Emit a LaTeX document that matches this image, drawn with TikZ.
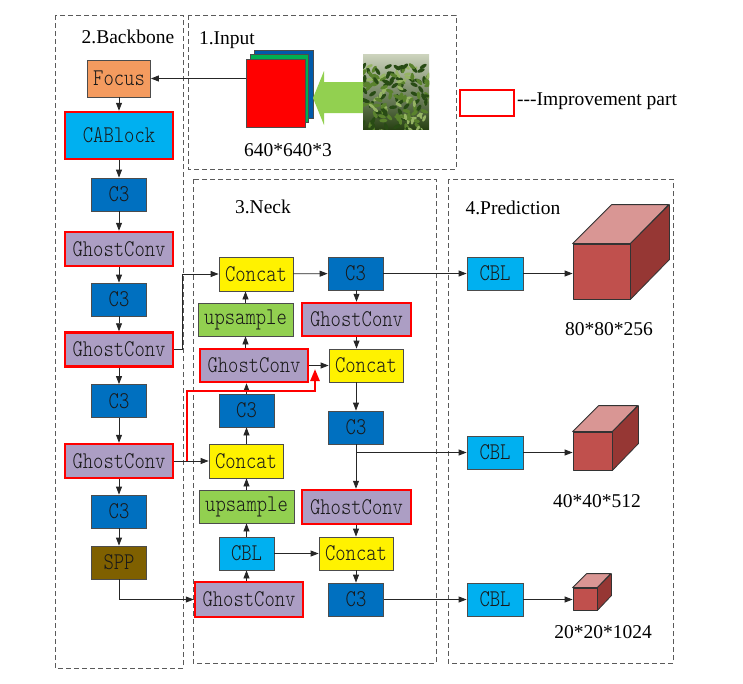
\documentclass[tikz,border=0pt]{standalone}
\usepackage{fontspec}
\setmainfont{Liberation Serif}
\newfontfamily\boxfont{lmmonolt10-regular.otf}[FakeStretch=0.82]
\usetikzlibrary{arrows.meta}
\definecolor{c3blue}{RGB}{0,112,192}
\definecolor{cyanb}{RGB}{0,176,240}
\definecolor{ghost}{RGB}{172,158,196}
\definecolor{focusc}{RGB}{244,155,95}
\definecolor{upg}{RGB}{146,208,80}
\definecolor{sppc}{RGB}{127,96,0}
\definecolor{cubef}{RGB}{192,80,77}
\definecolor{cubet}{RGB}{217,150,148}
\definecolor{cubes}{RGB}{150,55,52}
\definecolor{dashg}{RGB}{90,90,90}
\definecolor{leafa}{RGB}{40,75,20}
\definecolor{leafb}{RGB}{90,130,45}
\definecolor{leafc}{RGB}{150,180,100}
\definecolor{inblue}{RGB}{0,90,170}
\definecolor{ingreen}{RGB}{0,176,80}
\begin{document}
\begin{tikzpicture}[x=1pt,y=-1pt,
  box/.style={draw=black!70, line width=0.8pt, inner sep=0pt,
    font=\fontsize{24}{24}\boxfont, text=black!90},
  imp/.style={draw=red, line width=2.5pt},
  c3/.style={box, fill=c3blue, minimum width=55, minimum height=33},
  gc/.style={box, imp, fill=ghost, minimum width=108, minimum height=34},
  cc/.style={box, fill=yellow, minimum width=74, minimum height=34},
  up/.style={box, fill=upg, minimum width=95, minimum height=33},
  cbl/.style={box, fill=cyanb, minimum width=55, minimum height=33},
  sec/.style={draw=dashg, dash pattern=on 5pt off 3pt, line width=1pt},
  ttl/.style={font=\fontsize{19.5}{22}\selectfont, anchor=base, inner sep=0pt},
  arr/.style={draw=black!85, line width=0.8pt, -{Triangle[length=8pt,width=6pt]}},
  redarr/.style={draw=red, line width=2.5pt, -{Triangle[length=12pt,width=9pt]}},
  face/.style={draw=black!80, line width=0.8pt, line join=round}
]
\useasboundingbox (0,0) rectangle (743,683);

% section frames
\draw[sec] (55,15) rectangle (183,668);
\draw[sec] (188,15) rectangle (456,169);
\draw[sec] (193,179) rectangle (436,663);
\draw[sec] (448,179) rectangle (673,663);

\node[ttl] (tbb) at (128,43) {2.Backbone};
\node[ttl] (tin) at (227,44) {1.Input};
\node[ttl] (tnk) at (263,213) {3.Neck};
\node[ttl] (tpr) at (513,214) {4.Prediction};

% input
\node[box, fill=inblue, minimum width=59, minimum height=68] (inb) at (284,84) {};
\node[box, fill=ingreen, minimum width=58, minimum height=68] (ing) at (279.5,88.5) {};
\node[box, fill=red, minimum width=59, minimum height=68] (inr) at (275.5,93) {};
\node[ttl] (tsz) at (288,156) {640*640*3};
\fill[upg] (313,98) -- (324,71) -- (324,82) -- (363,82) -- (363,113) -- (324,113) -- (324,125) -- cycle;
\begin{scope}
  \clip (363,54) rectangle (429,129);
  \shade[top color={rgb,255:red,205;green,212;blue,190}, middle color={rgb,255:red,110;green,140;blue,70}, bottom color={rgb,255:red,40;green,65;blue,20}] (363,54) rectangle (429,129);
  \pgfmathsetseed{11}
  \foreach \i in {1,...,170}{
    \pgfmathsetmacro{\lx}{363+66*rnd}
    \pgfmathsetmacro{\ly}{66+66*rnd}
    \pgfmathsetmacro{\la}{180*rnd}
    \pgfmathsetmacro{\lk}{int(3*rnd)}
    \ifcase\lk\relax
      \fill[leafa, rotate around={\la:(\lx,\ly)}] (\lx,\ly) ellipse (4 and 1.8);
    \or
      \fill[leafb, rotate around={\la:(\lx,\ly)}] (\lx,\ly) ellipse (4 and 1.8);
    \else
      \fill[leafc, rotate around={\la:(\lx,\ly)}] (\lx,\ly) ellipse (3.5 and 1.5);
    \fi
  }
\end{scope}

% legend
\node[draw=red, line width=2.5pt, fill=white, minimum width=54, minimum height=26, inner sep=0pt] (leg) at (487,103) {};
\node[ttl, anchor=base west] (legt) at (517,105) {\mbox{-}\mbox{-}\mbox{-}Improvement part};

% backbone
\node[box, fill=focusc, minimum width=63, minimum height=37] (foc) at (119,78.5) {Focus};
\node[box, imp, fill=cyanb, minimum width=108, minimum height=47] (cab) at (119,135.5) {CABlock};
\node[c3] (b1) at (119,194.5) {C3};
\node[gc] (g1) at (119,249) {GhostConv};
\node[c3] (b2) at (119,299.5) {C3};
\node[gc] (g2) at (119,349.5) {GhostConv};
\node[c3] (b3) at (119,401) {C3};
\node[gc] (g3) at (119,461) {GhostConv};
\node[c3] (b4) at (119,511.5) {C3};
\node[box, fill=sppc, minimum width=55, minimum height=33] (spp) at (119,562.5) {SPP};

\draw[arr] (inr.west |- foc.east) -- (foc.east);
\draw[arr] (foc) -- (cab);
\draw[arr] (cab) -- (b1);
\draw[arr] (b1) -- (g1);
\draw[arr] (g1) -- (b2);
\draw[arr] (b2) -- (g2);
\draw[arr] (g2) -- (b3);
\draw[arr] (b3) -- (g3);
\draw[arr] (g3) -- (b4);
\draw[arr] (b4) -- (spp);

% neck
\node[cc] (n1) at (256,274) {Concat};
\node[c3] (n2) at (355.5,273.5) {C3};
\node[up] (n3) at (245.5,319.5) {upsample};
\node[gc, minimum width=109, minimum height=33] (n4) at (356.5,319.5) {GhostConv};
\node[gc, minimum height=33] (n5) at (254,365.5) {GhostConv};
\node[cc, minimum height=33] (n6) at (366,365.5) {Concat};
\node[c3] (n7) at (246.5,410.5) {C3};
\node[c3] (n8) at (356,427.5) {C3};
\node[cc] (n9) at (246,461) {Concat};
\node[gc, minimum width=109] (n10) at (356.5,507) {GhostConv};
\node[up] (n11) at (246.5,506.5) {upsample};
\node[cbl] (n12) at (246.5,553.5) {CBL};
\node[cc, minimum height=33] (n13) at (356,553.5) {Concat};
\node[gc, minimum height=35] (n14) at (249,599.5) {GhostConv};
\node[c3] (n15) at (356,599.5) {C3};

\draw[arr] (g2.east) -- ++(8,0) |- (n1.west);
\draw[arr] (g3.east) -- (n9.west);
\draw[arr] (spp.south) |- (n14.west);

\draw[arr] (n1) -- (n2);
\draw[arr] (n5.north -| n3.south) -- (n3.south);
\draw[arr] (n3.north) -- (n3.north |- n1.south);
\draw[arr] (n7.north) -- (n7.north |- n5.south);
\draw[arr] (n9.north -| n7.south) -- (n7.south);
\draw[arr] (n11.north) -- (n11.north |- n9.south);
\draw[arr] (n12) -- (n11);
\draw[arr] (n14.north -| n12.south) -- (n12.south);
\draw[arr] (n12) -- (n13);
\draw[arr] (n5.east) -- (n6.west);

\draw[arr] (n2.south -| n4.north) -- (n4.north);
\draw[arr] (n4.south) -- (n4.south |- n6.north);
\draw[arr] (n6.south -| n8.north) -- (n8.north);
\draw[arr] (n8.south) -- (n8.south |- n10.north);
\draw[arr] (n10.south -| n13.north) -- (n13.north);
\draw[arr] (n13) -- (n15);

\coordinate (rs) at (187,461);
\coordinate (re) at (315,369);
\draw[redarr] (rs) -- (187,391) -- (315,391) -- (re);

% prediction
\node[cbl, minimum width=56] (p1) at (495,273.5) {CBL};
\node[cbl, minimum width=56] (p2) at (495,452.5) {CBL};
\node[cbl, minimum width=56] (p3) at (495,599.5) {CBL};

\draw[arr] (n2.east) -- (p1.west);
\draw[arr] (n8.south |- p2.west) -- (p2.west);
\draw[arr] (n15.east) -- (p3.west);

% cubes
\node[face, fill=cubef, minimum width=57, minimum height=55, inner sep=0pt] (k1) at (601.5,271.5) {};
\filldraw[face, fill=cubet] (k1.north west) -- ++(39,-39) -- ++(57,0) -- (k1.north east) -- cycle;
\filldraw[face, fill=cubes] (k1.north east) -- ++(39,-39) -- ++(0,55) -- (k1.south east) -- cycle;
\node[face, fill=cubef, minimum width=39, minimum height=38, inner sep=0pt] (k2) at (592.5,451) {};
\filldraw[face, fill=cubet] (k2.north west) -- ++(26,-26) -- ++(39,0) -- (k2.north east) -- cycle;
\filldraw[face, fill=cubes] (k2.north east) -- ++(26,-26) -- ++(0,38) -- (k2.south east) -- cycle;
\node[face, fill=cubef, minimum width=24, minimum height=22, inner sep=0pt] (k3) at (585,599) {};
\filldraw[face, fill=cubet] (k3.north west) -- ++(14,-14) -- ++(24,0) -- (k3.north east) -- cycle;
\filldraw[face, fill=cubes] (k3.north east) -- ++(14,-14) -- ++(0,22) -- (k3.south east) -- cycle;

\draw[arr] (p1.east) -- (p1.east -| k1.west);
\draw[arr] (p2.east) -- (p2.east -| k2.west);
\draw[arr] (p3.east) -- (p3.east -| k3.west);

\node[ttl] (s1) at (609,335) {80*80*256};
\node[ttl] (s2) at (597,507) {40*40*512};
\node[ttl] (s3) at (603,638) {20*20*1024};
\end{tikzpicture}
\end{document}
